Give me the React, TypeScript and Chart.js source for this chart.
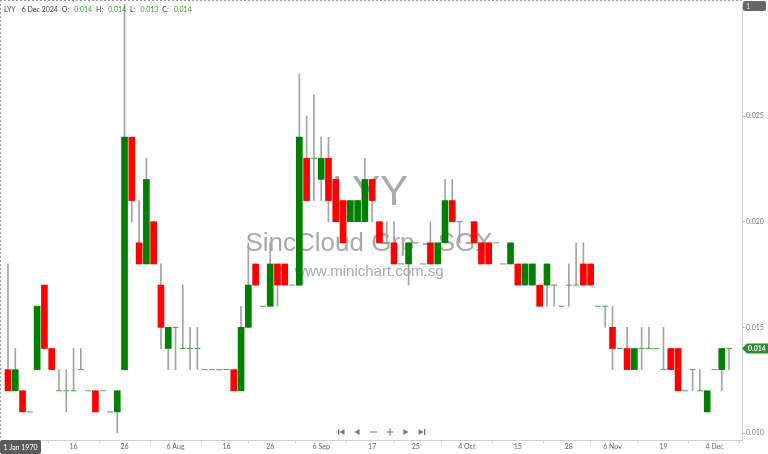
import React, { useEffect, useRef } from "react";
import { Chart, registerables } from "chart.js";

Chart.register(...registerables);

// daily OHLC, one entry per trading session (null = no session drawn)
const openP = [
  0.013, 0.012, 0.012, 0.011, 0.013, 0.017, 0.014, 0.012, 0.012, 0.012,
  0.013, 0.012, 0.012, 0.012, 0.011, 0.011, 0.013, 0.024, 0.019, 0.018,
  0.020, 0.017, 0.014, 0.015, 0.014, 0.014, 0.014, 0.013, 0.013, 0.013,
  0.013, 0.013, 0.012, 0.015, 0.018, 0.016, 0.016, 0.018, 0.018, 0.017,
  0.017, 0.023, 0.023, 0.022, 0.023, 0.022, 0.021, 0.020, 0.020, 0.020,
  0.022, 0.020, 0.019, 0.019, 0.018, 0.018, 0.019, 0.018, 0.019, 0.018,
  0.019, 0.021, 0.020, null, 0.020, 0.019, 0.019, 0.019, 0.018, 0.018,
  0.018, 0.017, 0.017, 0.017, 0.017, 0.017, 0.016, 0.017, 0.017, 0.018,
  0.018, 0.016, 0.016, 0.015, 0.014, 0.014, 0.013, 0.014, 0.014, 0.014,
  0.013, 0.014, 0.014, 0.012, 0.013, 0.012, 0.011, 0.013, 0.013, 0.014,
];
const highP = [
  0.018, 0.014, 0.012, 0.011, 0.016, 0.017, 0.014, 0.013, 0.013, 0.014,
  0.014, 0.012, 0.012, 0.012, 0.011, 0.012, 0.031, 0.024, 0.021, 0.023,
  0.020, 0.018, 0.015, 0.015, 0.017, 0.015, 0.015, 0.013, 0.013, 0.013,
  0.013, 0.013, 0.016, 0.019, 0.018, 0.016, 0.019, 0.018, 0.018, 0.017,
  0.027, 0.025, 0.026, 0.024, 0.024, 0.022, 0.021, 0.021, 0.021, 0.023,
  0.022, 0.020, 0.020, 0.020, 0.018, 0.019, 0.019, 0.018, 0.020, 0.019,
  0.022, 0.022, 0.020, null, 0.020, 0.019, 0.019, 0.019, 0.018, 0.019,
  0.018, 0.018, 0.018, 0.017, 0.018, 0.017, 0.016, 0.018, 0.019, 0.019,
  0.018, 0.016, 0.016, 0.016, 0.014, 0.015, 0.014, 0.015, 0.015, 0.014,
  0.015, 0.014, 0.014, 0.012, 0.013, 0.013, 0.012, 0.013, 0.014, 0.014,
];
const lowP = [
  0.012, 0.012, 0.011, 0.011, 0.013, 0.014, 0.013, 0.012, 0.011, 0.012,
  0.013, 0.012, 0.011, 0.012, 0.011, 0.010, 0.013, 0.020, 0.018, 0.018,
  0.018, 0.014, 0.013, 0.013, 0.014, 0.013, 0.013, 0.013, 0.013, 0.013,
  0.013, 0.012, 0.012, 0.015, 0.017, 0.016, 0.016, 0.016, 0.017, 0.017,
  0.017, 0.021, 0.021, 0.021, 0.020, 0.020, 0.019, 0.020, 0.020, 0.020,
  0.020, 0.019, 0.019, 0.018, 0.018, 0.017, 0.019, 0.018, 0.018, 0.018,
  0.019, 0.020, 0.019, null, 0.019, 0.018, 0.018, 0.019, 0.018, 0.018,
  0.017, 0.017, 0.017, 0.016, 0.016, 0.016, 0.016, 0.016, 0.017, 0.017,
  0.017, 0.016, 0.015, 0.013, 0.014, 0.013, 0.013, 0.013, 0.014, 0.014,
  0.013, 0.013, 0.012, 0.012, 0.012, 0.012, 0.011, 0.013, 0.012, 0.013,
];
const closeP = [
  0.012, 0.013, 0.011, 0.011, 0.016, 0.014, 0.013, 0.012, 0.012, 0.012,
  0.013, 0.012, 0.011, 0.012, 0.011, 0.012, 0.024, 0.021, 0.018, 0.022,
  0.018, 0.015, 0.015, 0.015, 0.014, 0.014, 0.014, 0.013, 0.013, 0.013,
  0.013, 0.012, 0.015, 0.017, 0.017, 0.016, 0.018, 0.017, 0.017, 0.017,
  0.024, 0.021, 0.023, 0.023, 0.021, 0.020, 0.019, 0.021, 0.021, 0.022,
  0.021, 0.019, 0.019, 0.018, 0.018, 0.019, 0.019, 0.018, 0.018, 0.019,
  0.021, 0.020, 0.020, null, 0.019, 0.018, 0.018, 0.019, 0.018, 0.019,
  0.017, 0.018, 0.018, 0.016, 0.018, 0.017, 0.016, 0.017, 0.017, 0.017,
  0.017, 0.016, 0.016, 0.014, 0.014, 0.013, 0.014, 0.014, 0.014, 0.014,
  0.013, 0.013, 0.012, 0.012, 0.013, 0.012, 0.012, 0.013, 0.014, 0.014,
];

const dateTickIdx = [9, 16, 23, 30, 36, 43, 50, 56, 63, 70, 77, 83, 90, 97];
const dateTickLabels = ["16", "26", "6 Aug", "16", "26", "6 Sep", "17", "25", "4 Oct", "15", "28", "6 Nov", "19", "4 Dec"];
const priceTicks = [0.01, 0.015, 0.02, 0.025];

const symbol = "LYY";
const companyName = "SincCloud Grp - SGX";
const lastDate = "6 Dec 2024";

const FONT = 'Lato, "Open Sans", sans-serif';
const UP = "#008000";
const DOWN = "#ff0000";
const VAL_GREEN = "#2e9e2e";

const fmt = (v: number) => v.toFixed(3);

const decor = {
  id: "decor",
  beforeDatasetsDraw(chart: any) {
    const { ctx } = chart;
    ctx.save();
    ctx.fillStyle = "rgba(140,140,140,0.75)";
    ctx.textAlign = "center";
    ctx.textBaseline = "alphabetic";
    ctx.font = '42px "Liberation Sans", Arial, sans-serif';
    ctx.fillText(symbol, 370, 205);
    ctx.font = '26px "Liberation Sans", Arial, sans-serif';
    ctx.fillText(companyName, 369, 251);
    ctx.font = '15px "Liberation Sans", Arial, sans-serif';
    ctx.fillText("www.minichart.com.sg", 369, 276);
    ctx.restore();
  },
  afterDraw(chart: any) {
    const { ctx, chartArea, scales } = chart;
    const last = closeP.length - 1;
    ctx.save();

    // dashed frame on top / left
    ctx.strokeStyle = "#9a9a9a";
    ctx.lineWidth = 1;
    ctx.setLineDash([2, 2]);
    ctx.beginPath();
    ctx.moveTo(0, 0.5);
    ctx.lineTo(chartArea.right, 0.5);
    ctx.moveTo(0.5, 0);
    ctx.lineTo(0.5, chartArea.bottom);
    ctx.stroke();
    ctx.setLineDash([]);

    // header line
    ctx.font = `7px ${FONT}`;
    ctx.textBaseline = "middle";
    ctx.textAlign = "left";
    const parts: [string, string, number][] = [
      [symbol, "#444", 6],
      [lastDate, "#444", 4],
      ["O:", "#444", 5],
      [fmt(openP[last] as number), VAL_GREEN, 4],
      ["H:", "#444", 5],
      [fmt(highP[last] as number), VAL_GREEN, 4],
      ["L:", "#444", 5],
      [fmt(lowP[last] as number), VAL_GREEN, 4],
      ["C:", "#444", 5],
      [fmt(closeP[last] as number), VAL_GREEN, 4],
    ];
    let hx = 4;
    parts.forEach(([t, c, gap]) => {
      ctx.fillStyle = c;
      ctx.fillText(t, hx, 10);
      hx += ctx.measureText(t).width + gap;
    });

    // top-right scale badge
    ctx.fillStyle = "#666";
    ctx.beginPath();
    ctx.roundRect(chartArea.right + 1, 1, 23, 10, 2);
    ctx.fill();
    ctx.fillStyle = "#dde";
    ctx.fillText("1", chartArea.right + 4, 6.5);

    // last price badge
    const py = scales.y.getPixelForValue(closeP[last]);
    const bx = chartArea.right;
    ctx.fillStyle = "#2a8f2a";
    ctx.beginPath();
    ctx.moveTo(bx, py);
    ctx.lineTo(bx + 5, py - 5);
    ctx.lineTo(768, py - 5);
    ctx.lineTo(768, py + 5);
    ctx.lineTo(bx + 5, py + 5);
    ctx.closePath();
    ctx.fill();
    ctx.fillStyle = "#fff";
    ctx.font = `bold 7px ${FONT}`;
    ctx.fillText(fmt(closeP[last] as number), bx + 6, py + 0.5);

    // crosshair date badge
    ctx.fillStyle = "#5c5c5c";
    ctx.beginPath();
    ctx.roundRect(0, chartArea.bottom, 41, 14, 2);
    ctx.fill();
    ctx.fillStyle = "#fff";
    ctx.font = `7px ${FONT}`;
    ctx.textAlign = "center";
    ctx.fillText("1 Jan 1970", 20.5, chartArea.bottom + 7.5);

    // navigation buttons
    const ny = 432;
    ctx.fillStyle = "#7a7a7a";
    ctx.strokeStyle = "#7a7a7a";
    ctx.lineWidth = 1.2;
    const tri = (x: number, dir: number) => {
      ctx.beginPath();
      ctx.moveTo(x - 2.5 * dir, ny - 3);
      ctx.lineTo(x - 2.5 * dir, ny + 3);
      ctx.lineTo(x + 2.5 * dir, ny);
      ctx.closePath();
      ctx.fill();
    };
    tri(342, -1);
    ctx.fillRect(338, ny - 3, 1.3, 6);
    tri(357, -1);
    ctx.beginPath();
    ctx.moveTo(370, ny);
    ctx.lineTo(377, ny);
    ctx.moveTo(386.5, ny);
    ctx.lineTo(393.5, ny);
    ctx.moveTo(390, ny - 3.5);
    ctx.lineTo(390, ny + 3.5);
    ctx.stroke();
    tri(406, 1);
    tri(421, 1);
    ctx.fillRect(424, ny - 3, 1.3, 6);

    ctx.restore();
  },
};

const App: React.FC = () => {
  const canvasRef = useRef<HTMLCanvasElement | null>(null);

  useEffect(() => {
    if (!canvasRef.current) return;

    const wicks: any[] = [];
    const bodies: any[] = [];
    const bodyColors: string[] = [];
    const dashes: any[] = [];
    closeP.forEach((c, i) => {
      const o = openP[i];
      const h = highP[i];
      const l = lowP[i];
      if (c == null || o == null || h == null || l == null) return;
      if (h > l) wicks.push({ x: i, y: [l, h] });
      if (o === c) {
        dashes.push({ x: i, y: c });
      } else {
        bodies.push({ x: i, y: [o, c] });
        bodyColors.push(c > o ? UP : DOWN);
      }
    });

    const chart = new Chart(canvasRef.current, {
      type: "bar",
      data: {
        datasets: [
          {
            type: "bar",
            data: wicks,
            backgroundColor: "#a3a3a3",
            barThickness: 1,
            grouped: false,
            order: 3,
          } as any,
          {
            type: "bar",
            data: bodies,
            backgroundColor: bodyColors,
            barThickness: 6,
            grouped: false,
            borderWidth: 0,
            order: 2,
          } as any,
          {
            type: "line",
            data: dashes,
            showLine: false,
            pointStyle: "line",
            pointRadius: 3,
            pointHoverRadius: 3,
            pointBorderWidth: 1,
            pointBorderColor: "#4aa84a",
            borderColor: "#4aa84a",
            order: 1,
          } as any,
        ],
      },
      options: {
        animation: false,
        responsive: true,
        maintainAspectRatio: false,
        layout: { padding: 0 },
        plugins: { legend: { display: false }, tooltip: { enabled: false } },
        scales: {
          x: {
            type: "linear",
            min: -0.55,
            max: 100.78,
            offset: false,
            afterBuildTicks: (s: any) => {
              s.ticks = dateTickIdx.map((v) => ({ value: v }));
            },
            afterFit: (s: any) => {
              s.height = 14;
              s.paddingLeft = 0;
              s.paddingRight = 0;
            },
            ticks: {
              autoSkip: false,
              maxRotation: 0,
              padding: 0,
              color: "#666",
              font: { family: FONT, size: 7 },
              callback: (_v: any, i: number) => dateTickLabels[i],
            },
            grid: { drawOnChartArea: false, tickLength: 3, color: "#c8c8c8" },
            border: { color: "#d0d0d0" },
          },
          y: {
            type: "linear",
            position: "right",
            min: 0.00967,
            max: 0.0303,
            afterBuildTicks: (s: any) => {
              s.ticks = priceTicks.map((v) => ({ value: v }));
            },
            afterFit: (s: any) => {
              s.width = 26;
              s.paddingTop = 0;
              s.paddingBottom = 0;
            },
            ticks: {
              padding: 1,
              color: "#777",
              font: { family: FONT, size: 7 },
              callback: (v: any) => fmt(Number(v)),
            },
            grid: { drawOnChartArea: false, tickLength: 3, color: "#b0b0b0" },
            border: { color: "#d0d0d0" },
          },
        },
      },
      plugins: [decor],
    });

    return () => {
      chart.destroy();
    };
  }, []);

  return (
    <div style={{ position: "absolute", left: 0, top: 0, width: 768, height: 454, background: "#fff" }}>
      <canvas ref={canvasRef}></canvas>
    </div>
  );
};

export default App;
